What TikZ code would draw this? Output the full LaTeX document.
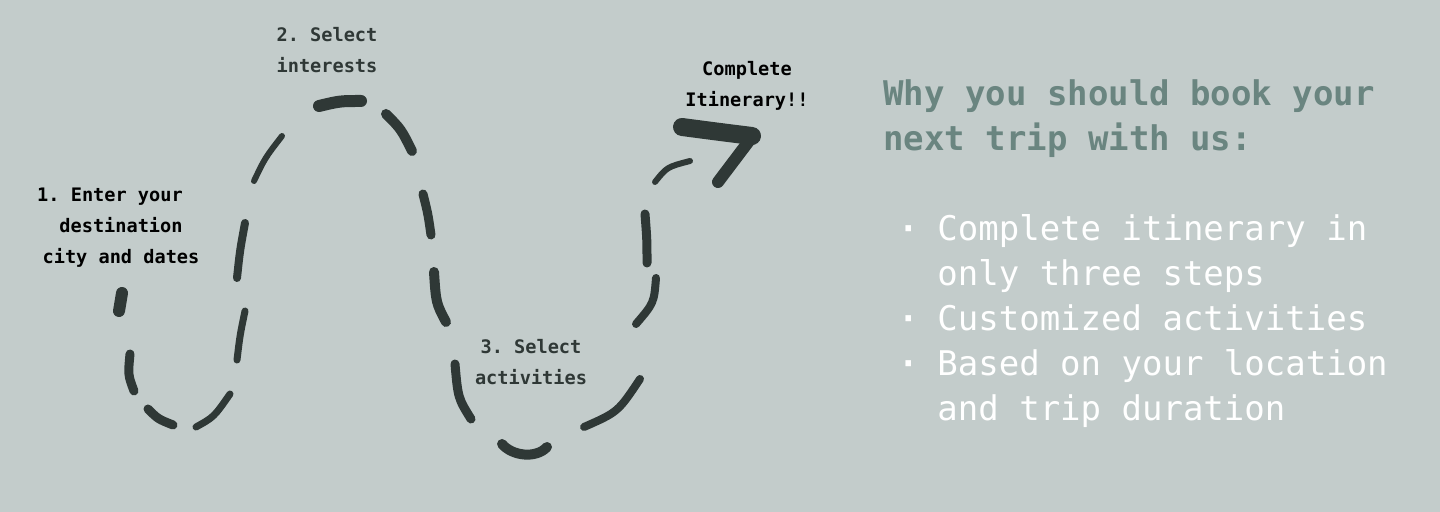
\documentclass[tikz,border=0pt]{standalone}
\usepackage{fontspec}
\setmonofont{DejaVu Sans Mono}
\usetikzlibrary{positioning}
\definecolor{bgcol}{HTML}{C3CCCB}
\definecolor{inkcol}{HTML}{2F3836}
\definecolor{headcol}{HTML}{6A8580}
\newcommand{\itemdot}{\llap{{\bfseries·}\hspace{9pt}}}

\begin{document}
\begin{tikzpicture}[
  x=0.5pt, y=-0.5pt,
  steplab/.style={align=center, inner sep=0pt, anchor=north, font=\fontsize{9.3}{15.5}\selectfont\ttfamily\bfseries},
  headlab/.style={align=left, inner sep=0pt, text=headcol, font=\fontsize{17}{22.5}\selectfont\ttfamily\bfseries},
  perklab/.style={align=left, inner sep=0pt, text=white, font=\fontsize{17}{22.5}\selectfont\ttfamily\mdseries},
  brush/.style={draw=inkcol, line cap=round, line join=round}
]
\fill[bgcol] (0,0) rectangle (1440,512);
\useasboundingbox (0,0) rectangle (1440,512);
% step labels
\node[steplab, text=black] (enter) at (121,188) {1. Enter your\hspace*{11pt}\\destination\\city and dates};
\node[steplab, text=inkcol] (interests) at (327,27) {2. Select\\interests};
\node[steplab, text=inkcol] (activities) at (531,339) {3. Select\\activities};
\node[steplab, text=black] (done) at (747,61) {Complete\\Itinerary!!};
% dashed trail
\draw[brush, line width=6pt] (122,293) -- (119,311);
\draw[brush, line width=4.5pt] (130,354) .. controls (128,375) .. (134,391);
\draw[brush, line width=4.5pt] (148,409) .. controls (158,419) .. (173,425);
\draw[brush, line width=3.5pt] (196,427) .. controls (214,417) .. (230,394);
\draw[brush, line width=3.5pt] (245,311) .. controls (240,335) .. (237,360);
\draw[brush, line width=4pt] (245,223) .. controls (240,250) .. (237,278);
\draw[brush, line width=3pt] (282,136) .. controls (265,158) .. (254,181);
\draw[brush, line width=6pt] (319,106) .. controls (340,101) .. (361,101);
\draw[brush, line width=5pt] (386,114) .. controls (401,129) .. (412,151);
\draw[brush, line width=4.5pt] (423,194) .. controls (428,214) .. (431,235);
\draw[brush, line width=5pt] (434,272) .. controls (436,303) .. (446,322);
\draw[brush, line width=4.5pt] (455,364) .. controls (458,398) .. (471,419);
\draw[brush, line width=5pt] (502,444) .. controls (512,456) and (536,459) .. (547,447);
\draw[brush, line width=4pt] (584,427) .. controls (618,412) .. (640,379);
\draw[brush, line width=4pt] (656,278) .. controls (654,303) .. (636,324);
\draw[brush, line width=4.5pt] (645,214) .. controls (647,240) .. (647,263);
\draw[brush, line width=3pt] (655,182) .. controls (667,167) .. (690,161);
\draw[brush, line width=9pt] (682,127) .. controls (720,132) .. (752,136);
\draw[brush, line width=6pt] (752,137) -- (718,182);
% why book with us
\node[headlab, anchor=north west] (why) at (883,79) {Why you should book your\\next trip with us:};
\node[perklab, below=28pt of why.south west, anchor=north west, xshift=27pt] (perks)
  {\itemdot Complete itinerary in\\only three steps\\\itemdot Customized activities\\\itemdot Based on your location\\and trip duration};
\end{tikzpicture}
\end{document}
